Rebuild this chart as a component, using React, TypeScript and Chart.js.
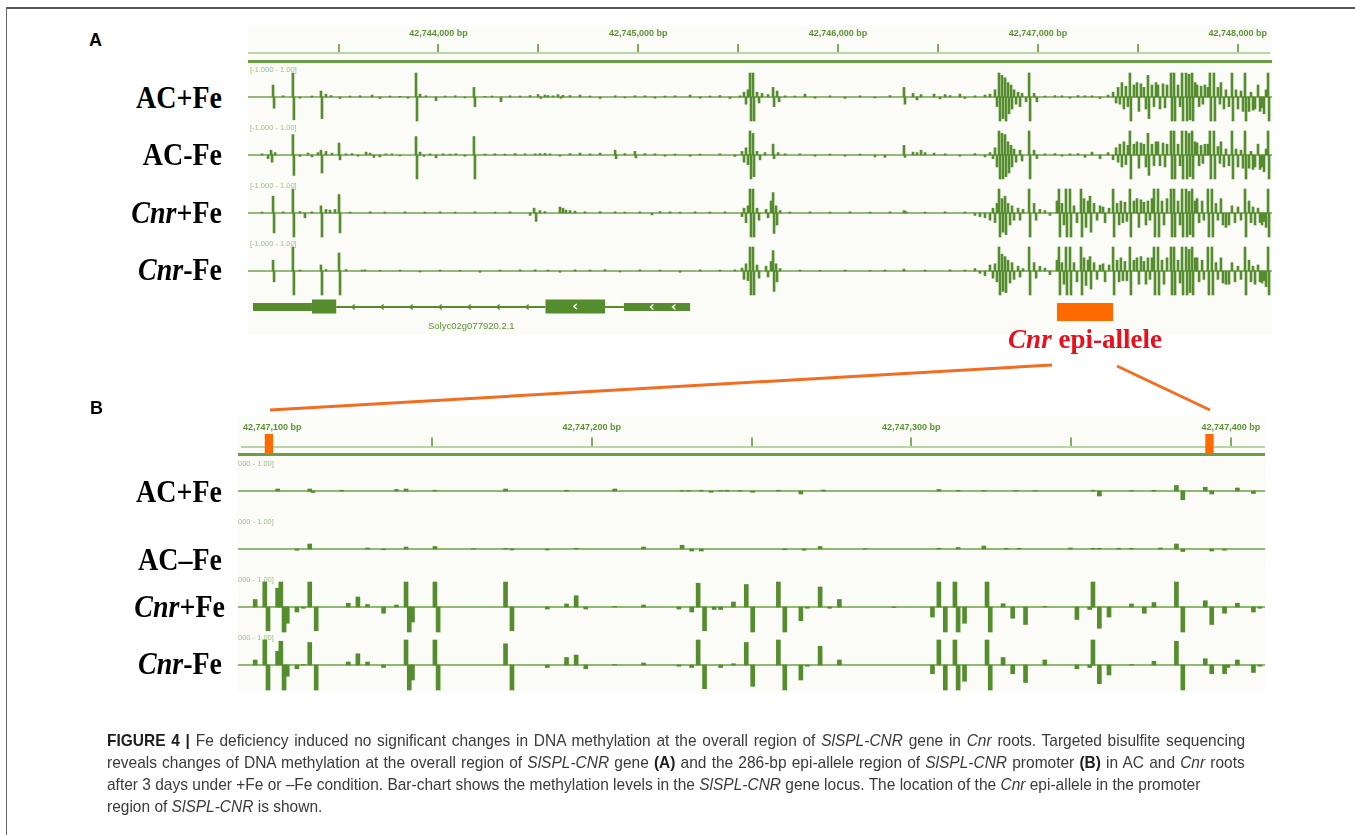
import React, { useEffect, useLayoutEffect, useRef, useState } from 'react';
import { Chart, registerables } from 'chart.js';
Chart.register(...registerables);

// ---------- constants (axis domains, ticks) ----------
const A_ORIGIN = 42743000;
const B_ORIGIN = 42747000;
const A_MIN = 47;
const A_MAX = 5154.7;
const B_MIN = 90.65;
const B_MAX = 410.6;
const A_TICKS = [500, 1000, 1500, 2000, 2500, 3000, 3500, 4000, 4500, 5000];
const B_TICKS = [100, 150, 200, 250, 300, 350, 400];

// ---------- data: [bp offset from origin, methylation level (+ strand up / - strand down)] ----------
const AC_PLUS_FE_A: [number, number][] = [[172,0.5],[177,-0.47],[222,0.05],[271,1],[276,-0.95],[306,-0.05],[366,0.04],[411,0.25],[416,-0.9],[436,0.12],[461,0.06],[506,-0.06],[556,0.04],[606,0.05],[666,0.08],[705,-0.06],[755,0.04],[805,0.03],[845,-0.05],[885,1],[890,-1],[905,0.12],[935,0.05],[985,-0.15],[1030,0.04],[1080,0.05],[1129,-0.04],[1174,0.4],[1179,-0.4],[1229,0.03],[1264,0.04],[1309,-0.2],[1354,0.05],[1404,0.04],[1454,0.06],[1494,0.1],[1508,-0.06],[1528,0.08],[1543,0.06],[1568,0.05],[1593,0.1],[1608,-0.05],[1618,0.07],[1653,0.06],[1703,0.08],[1753,0.04],[1803,-0.06],[1878,0.05],[1927,-0.04],[1977,0.05],[2027,0.05],[2077,-0.05],[2127,0.04],[2177,0.05],[2252,0.08],[2302,-0.05],[2351,0.04],[2401,0.06],[2451,-0.06],[2501,0.05],[2521,0.2],[2531,-0.3],[2541,0.3],[2551,1],[2556,-1],[2566,1],[2571,-1],[2586,0.2],[2596,-0.25],[2611,0.15],[2641,0.1],[2666,0.4],[2671,-0.4],[2686,0.25],[2696,-0.2],[2726,0.05],[2775,0.04],[2825,0.12],[2875,-0.05],[2950,0.05],[3025,-0.06],[3100,0.05],[3174,-0.04],[3249,0.06],[3319,0.4],[3324,-0.3],[3364,0.15],[3384,-0.12],[3404,0.1],[3469,0.12],[3499,-0.08],[3524,0.1],[3549,0.06],[3598,0.12],[3623,-0.06],[3673,0.05],[3723,0.08],[3748,0.12],[3773,0.3],[3783,-0.4],[3793,1],[3798,-1],[3808,0.9],[3813,-0.9],[3823,0.8],[3828,-1],[3838,0.6],[3843,-0.7],[3853,0.5],[3858,-0.5],[3868,0.3],[3878,-0.3],[3888,0.2],[3898,-0.4],[3908,0.15],[3928,-0.2],[3943,1],[3948,-1],[3968,0.15],[3982,-0.2],[4022,0.04],[4072,0.06],[4107,0.05],[4147,-0.05],[4187,0.06],[4222,0.05],[4257,0.05],[4297,-0.06],[4337,0.08],[4362,0.2],[4377,-0.25],[4387,0.4],[4396,-0.3],[4406,0.6],[4416,-0.5],[4426,0.45],[4436,-0.4],[4446,1],[4451,-1],[4466,0.5],[4481,0.6],[4491,-0.6],[4501,0.55],[4516,0.4],[4526,-0.5],[4536,0.9],[4541,-0.9],[4556,0.5],[4566,-0.4],[4576,0.6],[4586,0.5],[4596,-0.5],[4611,0.55],[4621,-0.45],[4631,0.5],[4651,1],[4656,-1],[4666,1],[4671,-1],[4686,0.5],[4696,-0.4],[4706,1],[4711,-1],[4726,1],[4731,-1],[4741,0.95],[4746,-0.95],[4756,1],[4761,-1],[4771,0.6],[4781,0.5],[4791,-0.4],[4801,0.45],[4810,-0.3],[4820,0.5],[4835,0.4],[4845,1],[4850,-1],[4865,1],[4870,-1],[4885,0.4],[4895,-0.3],[4900,0.6],[4915,-0.5],[4925,0.3],[4940,-0.4],[4955,1],[4960,-1],[4975,0.3],[4985,-0.5],[5000,0.25],[5010,-0.6],[5020,1],[5025,-1],[5040,-0.6],[5050,0.2],[5060,-0.55],[5070,-0.5],[5085,0.5],[5095,-0.6],[5105,-0.45],[5115,-0.7],[5125,0.3],[5135,1],[5140,-1]];

const AC_MINUS_FE_A: [number, number][] = [[117,0.05],[147,-0.15],[162,0.2],[167,-0.3],[182,0.1],[271,0.85],[276,-0.85],[306,-0.06],[346,0.08],[366,-0.08],[396,0.1],[411,0.2],[416,-0.75],[436,0.15],[466,0.08],[501,0.5],[506,-0.2],[536,0.05],[566,0.06],[596,-0.05],[636,0.12],[656,0.08],[675,-0.1],[705,-0.08],[735,0.05],[765,0.05],[805,-0.04],[885,0.77],[890,-1],[905,0.12],[925,-0.06],[955,0.05],[985,-0.12],[1020,0.05],[1055,0.04],[1084,0.05],[1129,-0.05],[1174,0.77],[1179,-1],[1229,0.04],[1279,0.05],[1329,0.04],[1379,0.06],[1429,0.05],[1479,0.05],[1503,0.06],[1528,0.07],[1553,0.05],[1603,-0.05],[1653,0.06],[1703,0.08],[1753,0.05],[1803,0.08],[1878,0.2],[1883,-0.15],[1927,0.06],[1977,0.15],[1982,-0.12],[2027,0.06],[2077,0.05],[2127,-0.05],[2177,0.04],[2252,-0.05],[2302,0.04],[2401,0.05],[2476,-0.06],[2511,0.15],[2521,-0.3],[2531,0.3],[2541,-0.4],[2551,1],[2556,-1],[2566,0.9],[2571,-0.9],[2586,0.15],[2601,-0.2],[2626,0.1],[2666,0.45],[2671,-0.15],[2691,0.1],[2726,0.05],[2800,0.05],[2875,-0.05],[2950,0.04],[3025,-0.05],[3100,0.04],[3174,-0.08],[3224,-0.1],[3319,0.4],[3324,-0.1],[3364,0.12],[3384,0.1],[3404,0.2],[3424,0.1],[3469,0.08],[3524,0.05],[3598,-0.05],[3673,0.06],[3723,-0.08],[3748,0.1],[3763,-0.15],[3773,0.3],[3783,-0.5],[3793,1],[3798,-1],[3808,0.9],[3813,-1],[3823,0.85],[3828,-0.9],[3838,0.55],[3843,-0.75],[3853,0.4],[3858,-0.5],[3868,0.25],[3878,-0.3],[3898,0.2],[3908,-0.25],[3943,1],[3948,-1],[3968,0.2],[3982,-0.15],[4022,0.05],[4072,0.06],[4107,-0.05],[4147,0.05],[4187,0.06],[4222,-0.1],[4257,0.12],[4297,-0.15],[4337,0.1],[4362,-0.2],[4377,0.3],[4387,-0.3],[4396,0.45],[4406,-0.5],[4416,0.55],[4426,-0.4],[4436,0.4],[4446,1],[4451,-1],[4466,0.45],[4481,0.55],[4491,-0.55],[4501,0.5],[4516,0.45],[4526,-0.5],[4536,0.9],[4541,-0.85],[4556,0.45],[4566,-0.45],[4576,0.55],[4586,0.55],[4596,-0.45],[4611,0.5],[4621,-0.5],[4631,0.45],[4651,1],[4656,-1],[4666,1],[4671,-1],[4686,0.45],[4696,-0.45],[4706,1],[4711,-1],[4726,1],[4731,-1],[4741,0.9],[4746,-0.9],[4756,1],[4761,-1],[4771,0.55],[4781,0.5],[4791,-0.45],[4801,0.4],[4810,-0.35],[4820,0.45],[4835,0.45],[4845,1],[4850,-1],[4865,1],[4870,-1],[4885,0.35],[4895,-0.35],[4900,0.55],[4915,-0.5],[4925,0.25],[4940,-0.45],[4955,1],[4960,-1],[4975,0.25],[4985,-0.5],[5000,0.2],[5010,-0.55],[5020,1],[5025,-1],[5040,-0.55],[5050,0.15],[5060,-0.6],[5070,-0.5],[5085,0.45],[5095,-0.6],[5105,-0.5],[5115,-0.7],[5125,0.25],[5135,1],[5140,-1]];

const CNR_PLUS_FE_A: [number, number][] = [[117,0.04],[172,0.7],[177,-0.83],[222,0.05],[271,1],[276,-1],[306,0.06],[331,-0.2],[366,0.05],[411,0.3],[416,-1],[436,0.15],[456,0.12],[481,0.15],[501,0.77],[506,-0.83],[556,0.04],[656,0.05],[730,0.04],[830,0.05],[930,0.04],[1005,0.05],[1080,0.04],[1179,0.05],[1279,0.04],[1354,0.05],[1454,-0.1],[1474,0.2],[1484,-0.35],[1503,0.1],[1528,0.06],[1603,0.25],[1618,0.2],[1633,0.12],[1653,0.1],[1678,0.08],[1728,0.05],[1803,0.06],[1878,0.05],[1927,0.04],[2002,0.05],[2062,-0.08],[2102,0.06],[2152,0.05],[2202,0.04],[2277,0.05],[2351,0.04],[2426,0.05],[2511,-0.15],[2521,0.2],[2531,-0.4],[2541,0.3],[2551,1],[2556,-1],[2566,1],[2571,-1],[2586,0.2],[2596,-0.3],[2631,0.15],[2641,-0.2],[2656,0.5],[2666,0.85],[2671,-0.85],[2681,0.3],[2686,-0.5],[2701,0.1],[2750,0.04],[2850,0.05],[2950,0.04],[3050,0.05],[3150,0.04],[3249,0.05],[3319,0.1],[3329,0.06],[3424,0.04],[3524,0.05],[3623,0.04],[3673,-0.1],[3698,-0.15],[3723,-0.2],[3748,-0.3],[3763,0.2],[3773,-0.4],[3783,0.4],[3793,1],[3798,-1],[3808,0.6],[3813,-0.8],[3823,0.7],[3828,-0.9],[3838,0.4],[3848,-0.5],[3858,0.3],[3868,-0.3],[3888,0.2],[3898,-0.3],[3913,0.15],[3943,1],[3948,-1],[3968,0.4],[3978,-0.3],[3997,0.15],[4022,0.1],[4047,-0.1],[4082,0.5],[4092,1],[4097,-1],[4107,0.4],[4117,-0.5],[4127,1],[4132,-1],[4147,1],[4152,-1],[4167,0.3],[4182,-0.4],[4202,1],[4207,-1],[4217,0.6],[4227,-0.6],[4237,0.5],[4247,0.7],[4252,-0.8],[4267,0.4],[4282,-0.3],[4297,0.3],[4312,0.25],[4322,-0.4],[4342,0.2],[4362,1],[4367,-1],[4382,0.4],[4392,-0.5],[4401,0.5],[4411,-0.4],[4421,0.45],[4431,-0.35],[4446,1],[4451,-1],[4466,0.5],[4481,0.6],[4491,-0.6],[4501,0.55],[4516,0.45],[4526,-0.5],[4536,0.5],[4546,-0.3],[4556,0.6],[4566,1],[4571,-1],[4586,1],[4591,-1],[4606,0.5],[4616,-0.5],[4631,0.6],[4651,1],[4656,-1],[4666,1],[4671,-1],[4686,0.5],[4696,-0.5],[4706,1],[4711,-1],[4726,1],[4731,-1],[4741,0.9],[4746,-0.9],[4756,1],[4761,-1],[4771,0.5],[4781,0.6],[4791,-0.4],[4806,0.5],[4815,-0.3],[4835,1],[4840,-1],[4855,1],[4860,-1],[4875,0.4],[4885,-0.3],[4900,0.6],[4910,-0.5],[4925,-0.6],[4940,-0.5],[4955,0.3],[4970,-0.4],[4985,0.25],[5000,-0.3],[5020,1],[5025,-1],[5040,0.5],[5050,-0.4],[5060,0.25],[5070,-0.5],[5085,0.2],[5095,-0.4],[5105,-0.5],[5115,-0.35],[5125,-0.6],[5135,1],[5140,-1]];

const CNR_MINUS_FE_A: [number, number][] = [[172,0.45],[177,-0.45],[271,1],[276,-1],[306,0.04],[411,0.25],[416,-1],[436,0.06],[501,0.75],[506,-1],[536,0.06],[616,0.04],[631,0.05],[705,0.03],[805,0.04],[905,-0.04],[1005,0.04],[1104,0.03],[1204,-0.05],[1304,0.04],[1404,0.05],[1479,0.05],[1543,0.04],[1603,-0.05],[1678,0.05],[1753,0.04],[1828,0.06],[1903,-0.04],[2002,0.05],[2102,0.04],[2202,-0.05],[2302,0.05],[2401,0.04],[2476,0.05],[2511,0.12],[2521,-0.35],[2531,0.3],[2541,-0.4],[2551,1],[2556,-1],[2566,1],[2571,-1],[2586,0.25],[2596,-0.3],[2631,0.2],[2641,-0.25],[2656,0.4],[2666,0.85],[2671,-0.85],[2681,0.3],[2686,-0.45],[2701,0.1],[2800,0.04],[2900,0.03],[3025,0.04],[3150,0.03],[3224,0.04],[3319,0.08],[3424,0.04],[3549,0.05],[3623,0.04],[3673,0.1],[3698,-0.1],[3723,-0.2],[3748,0.25],[3763,-0.3],[3773,0.3],[3783,-0.45],[3793,1],[3798,-1],[3808,0.7],[3813,-0.85],[3823,0.6],[3828,-0.9],[3838,0.45],[3848,-0.5],[3858,0.35],[3868,-0.35],[3888,0.2],[3898,-0.25],[3913,0.1],[3943,1],[3948,-1],[3968,0.35],[3978,-0.3],[3997,0.2],[4022,0.12],[4047,-0.15],[4082,0.45],[4092,1],[4097,-1],[4107,0.35],[4117,-0.55],[4127,1],[4132,-1],[4147,1],[4152,-1],[4167,0.35],[4182,-0.45],[4202,1],[4207,-1],[4217,0.55],[4227,-0.6],[4237,0.45],[4247,0.6],[4252,-0.75],[4267,0.35],[4282,-0.35],[4297,0.25],[4312,0.3],[4322,-0.45],[4342,0.25],[4362,1],[4367,-1],[4382,0.45],[4392,-0.45],[4401,0.55],[4411,-0.4],[4421,0.4],[4431,-0.4],[4446,1],[4451,-1],[4466,0.45],[4481,0.55],[4491,-0.55],[4501,0.6],[4516,0.4],[4526,-0.55],[4536,0.55],[4546,-0.35],[4556,0.55],[4566,1],[4571,-1],[4586,1],[4591,-1],[4606,0.45],[4616,-0.55],[4631,0.55],[4651,1],[4656,-1],[4666,1],[4671,-1],[4686,0.45],[4696,-0.5],[4706,1],[4711,-1],[4726,1],[4731,-1],[4741,0.9],[4746,-0.9],[4756,1],[4761,-1],[4771,0.55],[4781,0.55],[4791,-0.45],[4806,0.45],[4815,-0.35],[4835,1],[4840,-1],[4855,1],[4860,-1],[4875,0.35],[4885,-0.35],[4900,0.55],[4910,-0.5],[4925,-0.55],[4940,-0.55],[4955,0.35],[4970,-0.45],[4985,0.2],[5000,-0.35],[5020,1],[5025,-1],[5040,0.45],[5050,-0.45],[5060,0.2],[5070,-0.55],[5085,0.25],[5095,-0.45],[5105,-0.5],[5115,-0.4],[5125,-0.65],[5135,1],[5140,-1]];

const AC_PLUS_FE_B: [number, number][] = [[103,0.08],[113,0.08],[114,-0.06],[123,0.03],[140,0.06],[143,0.08],[152,0.03],[174,0.08],[193,0.03],[208,0.08],[229,0.02],[231,0.02],[235,0.03],[238,-0.05],[241,0.02],[243,0.03],[247,0.02],[251,-0.05],[259,0.03],[266,-0.12],[273,0.04],[309,0.06],[315,0.03],[323,0.02],[333,0.02],[339,0.02],[357,0.03],[359,-0.2],[369,0.02],[376,0.03],[383,0.22],[385,-0.35],[392,0.15],[394,-0.12],[402,0.12],[407,-0.1]];

const AC_MINUS_FE_B: [number, number][] = [[109,-0.05],[113,0.2],[131,0.04],[136,-0.03],[143,0.08],[152,0.1],[164,0.02],[174,0.03],[176,-0.04],[187,-0.04],[196,0.03],[217,0.08],[229,0.15],[232,-0.08],[235,-0.08],[261,-0.03],[267,-0.05],[272,0.1],[286,0.02],[309,0.03],[315,0.06],[323,0.12],[330,0.03],[334,0.03],[350,0.04],[357,0.03],[359,0.03],[365,0.03],[369,0.03],[378,0.04],[383,0.2],[385,-0.1],[394,-0.08],[398,-0.05]];

const CNR_PLUS_FE_B: [number, number][] = [[96,0.3],[99,1],[100,-0.95],[103,0.75],[104,1],[105,-1],[106,-0.65],[109,-0.2],[111,-0.05],[113,1],[115,-0.95],[125,0.15],[128,0.4],[131,0.1],[136,-0.25],[140,0.08],[143,1],[144,-1],[145,-0.6],[152,1],[153,-1],[174,1],[176,-0.95],[187,-0.08],[193,0.12],[196,0.45],[199,-0.08],[208,0.02],[217,0.08],[228,-0.08],[232,-0.2],[234,0.95],[236,-0.95],[239,-0.1],[241,-0.1],[245,0.2],[249,0.9],[251,-1],[259,1],[261,-1],[266,-0.55],[268,-0.05],[272,0.8],[275,-0.05],[278,0.3],[295,-0.02],[307,-0.4],[309,1],[311,-1],[314,1],[315,-1],[317,-0.65],[324,1],[325,-1],[329,0.13],[332,-0.45],[336,-0.7],[342,0.02],[352,-0.5],[356,-0.1],[357,1],[359,-0.85],[362,-0.4],[369,0.12],[373,-0.25],[376,0.18],[383,1],[385,-1],[392,0.25],[394,-0.7],[398,-0.25],[402,0.15],[407,-0.2],[409,-0.05]];

const CNR_MINUS_FE_B: [number, number][] = [[96,0.2],[99,1],[100,-1],[103,0.55],[104,0.95],[105,-1],[106,-0.45],[109,-0.15],[111,0.02],[113,0.9],[115,-1],[125,0.12],[128,0.45],[131,0.12],[136,-0.1],[143,1],[144,-1],[145,-0.6],[152,1],[153,-1],[174,0.85],[176,-1],[187,-0.1],[193,0.3],[196,0.4],[199,-0.15],[208,0.02],[217,0.08],[228,-0.05],[232,-0.1],[234,1],[236,-0.95],[241,-0.1],[245,0.05],[249,0.9],[251,-0.85],[259,1],[261,-1],[266,-0.6],[268,-0.05],[272,0.75],[278,0.2],[307,-0.35],[309,1],[311,-1],[314,1],[315,-1],[317,-0.65],[324,1],[325,-1],[329,0.3],[332,-0.35],[336,-0.7],[342,0.2],[352,-0.15],[356,-0.1],[357,1],[359,-0.75],[362,-0.4],[369,0.02],[376,0.15],[383,0.95],[385,-1],[392,0.25],[394,-0.35],[398,-0.35],[399,-0.1],[402,0.2],[407,-0.3],[409,-0.05]];

// gene model (bp offsets from A_ORIGIN) and epi-allele region
const GENE_UTR: [number, number][] = [[72, 366], [1922, 2252]];
const GENE_CDS: [number, number][] = [[366, 487], [1531, 1828]];
const GENE_INTRONS: [number, number][] = [[487, 1531], [1828, 1922]];
const EPI_ALLELE_A: [number, number] = [4082, 4362];
const EPI_ALLELE_B_BOUNDS: [number, number][] = [[99, 101.6], [392, 394.6]];

// ---------- styles ----------
const GREEN = '#548c2e';
const BASE_A = '#74a350';
const BASE_B = '#8fbb70';
const ORANGE = '#ff6a00';
const PANEL_BG = '#fbfcf7';
const LABEL_GREEN = '#5d9236';
const TICK_GREEN = '#80ad60';
const RULE_LIGHT = '#b9d4a6';
const THICK_GREEN = '#6b9f45';

const fmt = (n: number) => n.toLocaleString('en-US');

type TrackProps = {
  data: [number, number][]; min: number; max: number; left: number; top: number;
  width: number; height: number; unitPx: number; bar: number; baseColor: string; baseWidth: number;
};

function Track({ data, min, max, left, top, width, height, unitPx, bar, baseColor, baseWidth }: TrackProps) {
  const ref = useRef<HTMLCanvasElement>(null);
  useEffect(() => {
    const yMax = height / 2 / unitPx;
    const chart = new Chart(ref.current as HTMLCanvasElement, {
      type: 'bar',
      data: {
        datasets: [
          {
            type: 'line',
            data: [{ x: min, y: 0 }, { x: max, y: 0 }],
            borderColor: baseColor,
            borderWidth: baseWidth,
            pointRadius: 0,
            order: 2,
          } as any,
          {
            type: 'bar',
            data: data.map(([x, y]) => ({ x, y })),
            backgroundColor: GREEN,
            barThickness: bar,
            grouped: false,
            order: 1,
          } as any,
        ],
      },
      options: {
        animation: false,
        responsive: false,
        maintainAspectRatio: false,
        events: [],
        layout: { padding: 0 },
        plugins: { legend: { display: false }, tooltip: { enabled: false } },
        scales: {
          x: { type: 'linear', min, max, display: false, offset: false },
          y: { type: 'linear', min: -yMax, max: yMax, display: false },
        },
      } as any,
    });
    return () => chart.destroy();
  }, []);
  return <canvas ref={ref} width={width} height={height} style={{ position: 'absolute', left, top, width, height }} />;
}

type RulerProps = {
  min: number; max: number; ticks: number[]; origin: number; major: number;
  left: number; top: number; width: number; height: number; padTop: number; tickLen: number;
};

function Ruler({ min, max, ticks, origin, major, left, top, width, height, padTop, tickLen }: RulerProps) {
  const ref = useRef<HTMLCanvasElement>(null);
  useEffect(() => {
    const chart = new Chart(ref.current as HTMLCanvasElement, {
      type: 'line',
      data: { datasets: [] },
      options: {
        animation: false,
        responsive: false,
        maintainAspectRatio: false,
        events: [],
        layout: { padding: { top: padTop, left: 0, right: 0, bottom: 0 } },
        plugins: { legend: { display: false }, tooltip: { enabled: false } },
        scales: {
          x: {
            type: 'linear',
            position: 'top',
            min,
            max,
            offset: false,
            afterBuildTicks: (axis: any) => {
              axis.ticks = ticks.map((v) => ({ value: v }));
            },
            ticks: {
              autoSkip: false,
              maxRotation: 0,
              minRotation: 0,
              padding: 5,
              color: LABEL_GREEN,
              font: { size: 9, weight: 'bold', family: 'Arial, "Liberation Sans", sans-serif' },
              callback: (v: any) => (Number(v) % major === 0 ? fmt(origin + Number(v)) + ' bp' : ''),
            },
            grid: { drawOnChartArea: false, drawTicks: true, tickLength: tickLen, color: TICK_GREEN, lineWidth: 2 },
            border: { display: true, color: RULE_LIGHT, width: 2 },
          },
          y: { display: false },
        },
      } as any,
    });
    return () => chart.destroy();
  }, []);
  return <canvas ref={ref} width={width} height={height} style={{ position: 'absolute', left, top, width, height }} />;
}

type Item = { start: number; end: number; cy: number; h: number; color: string; kind: 'block' | 'intron'; arrows?: boolean };

function Intervals({ items, min, max, left, top, width, height }: { items: Item[]; min: number; max: number; left: number; top: number; width: number; height: number }) {
  const ref = useRef<HTMLCanvasElement>(null);
  useEffect(() => {
    const chevron = (ctx: CanvasRenderingContext2D, x: number, cy: number, color: string) => {
      ctx.strokeStyle = color;
      ctx.lineWidth = 1.3;
      ctx.beginPath();
      ctx.moveTo(x + 1.5, cy - 2.5);
      ctx.lineTo(x - 1.5, cy);
      ctx.lineTo(x + 1.5, cy + 2.5);
      ctx.stroke();
    };
    const plugin = {
      id: 'intervals',
      afterDatasetsDraw(chart: any) {
        const { ctx, chartArea } = chart;
        const xs = chart.scales.x;
        items.forEach((it) => {
          const x0 = xs.getPixelForValue(it.start);
          const x1 = xs.getPixelForValue(it.end);
          const cy = chartArea.top + it.cy;
          ctx.save();
          if (it.kind === 'intron') {
            ctx.strokeStyle = it.color;
            ctx.lineWidth = it.h;
            ctx.beginPath();
            ctx.moveTo(x0, cy);
            ctx.lineTo(x1, cy);
            ctx.stroke();
            for (let x = x0 + 17; x < x1 - 8; x += 29) chevron(ctx, x, cy, it.color);
          } else {
            ctx.fillStyle = it.color;
            ctx.fillRect(x0, cy - it.h, x1 - x0, it.h * 2);
            if (it.arrows) {
              const n = Math.max(1, Math.floor((x1 - x0) / 30));
              const step = (x1 - x0) / (n + 1);
              for (let i = 1; i <= n; i++) chevron(ctx, x0 + step * i + (n > 1 ? 6 : 0), cy, '#ffffff');
            }
          }
          ctx.restore();
        });
      },
    };
    const chart = new Chart(ref.current as HTMLCanvasElement, {
      type: 'line',
      data: { datasets: [] },
      options: {
        animation: false,
        responsive: false,
        maintainAspectRatio: false,
        events: [],
        layout: { padding: 0 },
        plugins: { legend: { display: false }, tooltip: { enabled: false } },
        scales: {
          x: { type: 'linear', min, max, display: false, offset: false },
          y: { type: 'linear', min: 0, max: 1, display: false },
        },
      } as any,
      plugins: [plugin],
    });
    return () => chart.destroy();
  }, []);
  return <canvas ref={ref} width={width} height={height} style={{ position: 'absolute', left, top, width, height }} />;
}

const SERIF = '"Liberation Serif", "Times New Roman", serif';
const SANS = '"Liberation Sans", Arial, sans-serif';

function RowLabel({ y, children, right = 222 }: { y: number; children: React.ReactNode; right?: number }) {
  return (
    <div
      style={{
        position: 'absolute',
        left: right - 200,
        width: 200,
        top: y - 20,
        height: 40,
        lineHeight: '40px',
        textAlign: 'right',
        fontFamily: SERIF,
        fontWeight: 'bold',
        fontSize: 28,
        color: '#000',
        transform: 'scaleY(1.15)',
        whiteSpace: 'nowrap',
      }}
    >
      {children}
    </div>
  );
}

function RangeLabel({ x, y, text }: { x: number; y: number; text: string }) {
  return (
    <div style={{ position: 'absolute', left: x, top: y - 5, fontFamily: SANS, fontSize: 7.5, lineHeight: '10px', color: '#9dbf88', whiteSpace: 'nowrap' }}>
      {text}
    </div>
  );
}

function Caption() {
  const ref = useRef<HTMLDivElement>(null);
  const [fit, setFit] = useState<{ k: number; ws: number[] }>({ k: 1, ws: [0, 0, 0, 0] });
  useLayoutEffect(() => {
    const root = ref.current;
    if (!root) return;
    const spans = Array.from(root.querySelectorAll('[data-line]')) as HTMLElement[];
    const widths = spans.map((s) => s.offsetWidth);
    if (!widths[2]) return;
    const k = 1093 / widths[2];
    const ws = spans.map((s, i) => {
      if (i > 1) return 0;
      const spaces = ((s.textContent || '').match(/ /g) || []).length;
      return spaces ? (1138 / k - widths[i]) / spaces : 0;
    });
    setFit({ k, ws });
  }, []);
  const line = (i: number): React.CSSProperties => ({
    display: 'inline-block',
    whiteSpace: 'nowrap',
    transform: `scaleX(${fit.k})`,
    transformOrigin: 'left center',
    wordSpacing: fit.ws[i],
  });
  const I = (s: string) => <i>{s}</i>;
  const B = (s: string) => <b style={{ color: '#1e1e1e' }}>{s}</b>;
  return (
    <div
      ref={ref}
      style={{ position: 'absolute', left: 107, top: 730, fontFamily: SANS, fontSize: 17, lineHeight: '22px', color: '#3a3a3a' }}
    >
      <div><span data-line="1" style={line(0)}>{B('FIGURE 4 |')} Fe deficiency induced no significant changes in DNA methylation at the overall region of {I('SlSPL-CNR')} gene in {I('Cnr')} roots. Targeted bisulfite sequencing</span></div>
      <div><span data-line="2" style={line(1)}>reveals changes of DNA methylation at the overall region of {I('SlSPL-CNR')} gene {B('(A)')} and the 286-bp epi-allele region of {I('SlSPL-CNR')} promoter {B('(B)')} in AC and {I('Cnr')} roots</span></div>
      <div><span data-line="3" style={line(2)}>after 3 days under +Fe or –Fe condition. Bar-chart shows the methylation levels in the {I('SlSPL-CNR')} gene locus. The location of the {I('Cnr')} epi-allele in the promoter</span></div>
      <div><span data-line="4" style={line(3)}>region of {I('SlSPL-CNR')} is shown.</span></div>
    </div>
  );
}

export default function App() {
  const aBases = [97, 155, 213, 271];
  const bBases = [491, 549, 607, 665];
  const aTracks = [AC_PLUS_FE_A, AC_MINUS_FE_A, CNR_PLUS_FE_A, CNR_MINUS_FE_A];
  const bTracks = [AC_PLUS_FE_B, AC_MINUS_FE_B, CNR_PLUS_FE_B, CNR_MINUS_FE_B];

  const geneItems: Item[] = [
    ...GENE_INTRONS.map(([s, e]) => ({ start: s, end: e, cy: 17, h: 2, color: GREEN, kind: 'intron' as const })),
    ...GENE_UTR.map(([s, e], i) => ({ start: s, end: e, cy: 17, h: 4, color: GREEN, kind: 'block' as const, arrows: i === 1 })),
    ...GENE_CDS.map(([s, e], i) => ({ start: s, end: e, cy: 16.5, h: 7, color: GREEN, kind: 'block' as const, arrows: i === 1 })),
    { start: EPI_ALLELE_A[0], end: EPI_ALLELE_A[1], cy: 22, h: 9, color: ORANGE, kind: 'block' },
  ];
  const bMarks: Item[] = EPI_ALLELE_B_BOUNDS.map(([s, e]) => ({ start: s, end: e, cy: 14, h: 10, color: ORANGE, kind: 'block' as const }));

  return (
    <div style={{ position: 'absolute', left: 0, top: 0, width: 1355, height: 835, overflow: 'hidden', background: '#fff' }}>
      {/* frame */}
      <div style={{ position: 'absolute', left: 6, top: 7, width: 1349, height: 2, background: '#555' }} />
      <div style={{ position: 'absolute', left: 6, top: 7, width: 1, height: 828, background: '#666' }} />

      {/* panel A */}
      <div style={{ position: 'absolute', left: 89, top: 29, fontFamily: SANS, fontWeight: 'bold', fontSize: 18, lineHeight: '22px' }}>A</div>
      <div style={{ position: 'absolute', left: 248, top: 26, width: 1024, height: 309, background: PANEL_BG }} />
      <div style={{ position: 'absolute', left: 248, top: 60, width: 1024, height: 3, background: THICK_GREEN }} />
      {aBases.map((b, i) => (
        <React.Fragment key={'a' + i}>
          <RangeLabel x={250} y={b - 27} text="[-1.000 - 1.00]" />
          <Track data={aTracks[i]} min={A_MIN} max={A_MAX} left={248} top={b - 28} width={1024} height={56} unitPx={24} bar={2} baseColor={BASE_A} baseWidth={1.5} />
        </React.Fragment>
      ))}
      <Ruler min={A_MIN} max={A_MAX} ticks={A_TICKS} origin={A_ORIGIN} major={1000} left={248} top={24} width={1024} height={56} padTop={2.2} tickLen={9} />
      <Intervals items={geneItems} min={A_MIN} max={A_MAX} left={248} top={290} width={1024} height={40} />
      <div style={{ position: 'absolute', left: 428, top: 320, fontFamily: SANS, fontSize: 9.5, lineHeight: '12px', color: LABEL_GREEN, whiteSpace: 'nowrap' }}>Solyc02g077920.2.1</div>

      <RowLabel y={98}>AC+Fe</RowLabel>
      <RowLabel y={155}>AC-Fe</RowLabel>
      <RowLabel y={213}><i>Cnr</i>+Fe</RowLabel>
      <RowLabel y={270}><i>Cnr</i>-Fe</RowLabel>

      <div style={{ position: 'absolute', left: 985, top: 322, width: 200, textAlign: 'center', fontFamily: SERIF, fontWeight: 'bold', fontSize: 27, lineHeight: '34px', color: '#e8101c', whiteSpace: 'nowrap' }}>
        <i>Cnr</i> epi-allele
      </div>

      {/* connector lines */}
      <svg width={1355} height={835} style={{ position: 'absolute', left: 0, top: 0 }}>
        <line x1={1052} y1={365} x2={270} y2={410} stroke="#f26d1f" strokeWidth={3} />
        <line x1={1117} y1={366} x2={1210} y2={410} stroke="#f26d1f" strokeWidth={3} />
      </svg>

      {/* panel B */}
      <div style={{ position: 'absolute', left: 90, top: 397, fontFamily: SANS, fontWeight: 'bold', fontSize: 18, lineHeight: '22px' }}>B</div>
      <div style={{ position: 'absolute', left: 238, top: 416, width: 1027, height: 276, background: PANEL_BG }} />
      <div style={{ position: 'absolute', left: 238, top: 453, width: 1027, height: 3, background: THICK_GREEN }} />
      {bBases.map((b, i) => (
        <React.Fragment key={'b' + i}>
          <RangeLabel x={238} y={b - 27} text="000 - 1.00]" />
          <Track data={bTracks[i]} min={B_MIN} max={B_MAX} left={238} top={b - 28} width={1027} height={56} unitPx={25} bar={4} baseColor={BASE_B} baseWidth={2} />
        </React.Fragment>
      ))}
      <Ruler min={B_MIN} max={B_MAX} ticks={B_TICKS} origin={B_ORIGIN} major={100} left={238} top={416} width={1027} height={58} padTop={3.2} tickLen={9} />
      <Intervals items={bMarks} min={B_MIN} max={B_MAX} left={238} top={430} width={1027} height={28} />
      <RowLabel y={492}>AC+Fe</RowLabel>
      <RowLabel y={560}>AC–Fe</RowLabel>
      <RowLabel y={607} right={225}><i>Cnr</i>+Fe</RowLabel>
      <RowLabel y={664}><i>Cnr</i>-Fe</RowLabel>

      <Caption />
    </div>
  );
}
